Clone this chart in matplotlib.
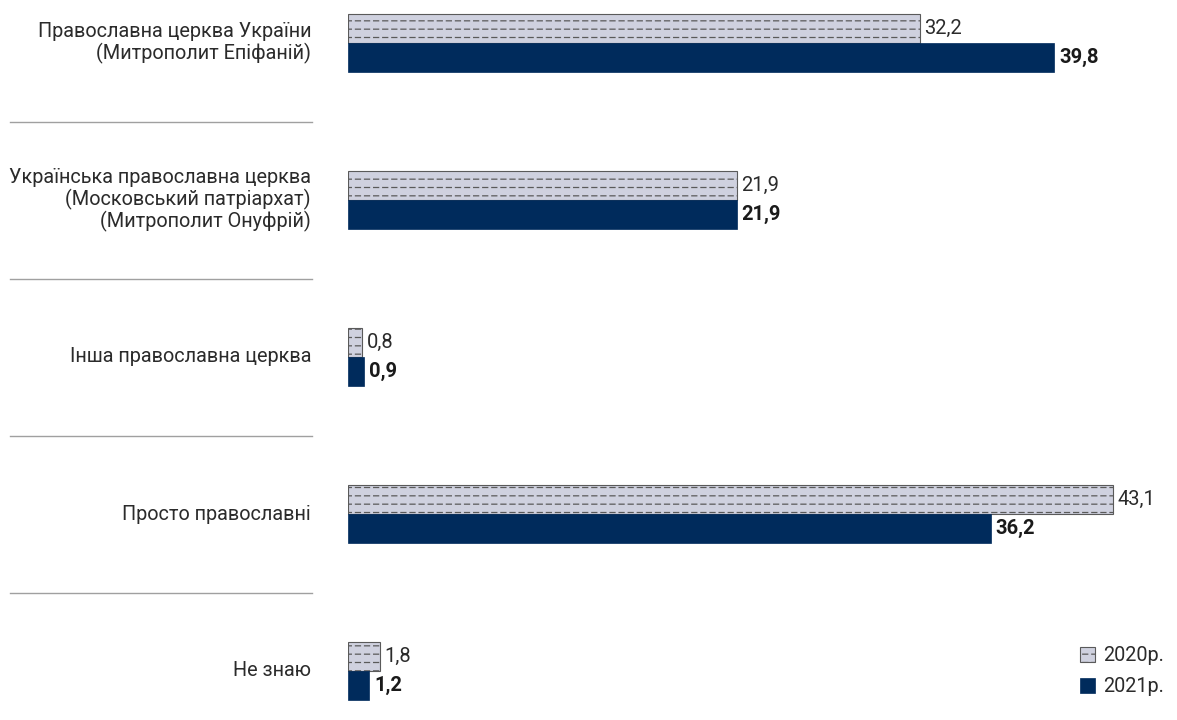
import matplotlib
matplotlib.use("Agg")
import matplotlib.pyplot as plt
import matplotlib.hatch
import matplotlib.transforms
import numpy as np
from matplotlib.path import Path

categories = [
    "Православна церква України\n(Митрополит Епіфаній)",
    "Українська православна церква\n(Московський патріархат)\n(Митрополит Онуфрій)",
    "Інша православна церква",
    "Просто православні",
    "Не знаю",
]
values_2020 = [32.2, 21.9, 0.8, 43.1, 1.8]
values_2021 = [39.8, 21.9, 0.9, 36.2, 1.2]
labels_2020 = ["32,2", "21,9", "0,8", "43,1", "1,8"]
labels_2021 = ["39,8", "21,9", "0,9", "36,2", "1,2"]
series_names = ["2020р.", "2021р."]

LIGHT = "#cfd1df"
NAVY = "#002b5c"
TEXT = "#2b2b2b"


class DashedHorizontal(matplotlib.hatch.HatchPatternBase):
	# horizontal lines made of short dashes
	def __init__(self, hatch, density):
		self.num_lines = int(hatch.count("-") * 6)
		self.num_dashes = 11
		self.num_vertices = self.num_lines * self.num_dashes * 2

	def set_vertices_and_codes(self, vertices, codes):
		step = 1.0 / self.num_lines
		period = 1.0 / self.num_dashes
		k = 0
		for i in range(self.num_lines):
			y = (i + 0.5) * step
			for j in range(self.num_dashes):
				x0 = j * period + 0.1 * period
				vertices[k] = (x0, y)
				vertices[k + 1] = (x0 + 0.55 * period, y)
				codes[k] = Path.MOVETO
				codes[k + 1] = Path.LINETO
				k += 2


matplotlib.hatch._hatch_types = [DashedHorizontal]

plt.rcParams["font.family"] = ["Roboto", "DejaVu Sans"]
plt.rcParams["hatch.linewidth"] = 0.9

figure = plt.figure(figsize = (11.77, 7.2), dpi = 100)
axes = figure.add_axes([348 / 1177, 0, 1 - 348 / 1177, 1])

scale = 17.75  # px per unit
spacing = 157.0
bar_height = 29 / spacing
positions = np.arange(len(categories))

bars_2020 = axes.barh(positions - bar_height / 2, values_2020, height = bar_height,
	color = LIGHT, edgecolor = "#5a5a5a", linewidth = 0.8, hatch = "--", label = series_names[0])
bars_2021 = axes.barh(positions + bar_height / 2, values_2021, height = bar_height,
	color = NAVY, edgecolor = NAVY, linewidth = 0.5, label = series_names[1])

axes.set_xlim(0, (1177 - 348) / scale)
axes.set_ylim(4 + (720 - 671) / spacing, -43 / spacing)
axes.axis("off")

for position, value, label in zip(positions, values_2020, labels_2020):
	axes.annotate(label, (value, position - bar_height / 2), xytext = (3.5, 0), textcoords = "offset points",
		va = "center", ha = "left", fontsize = 14.5, color = TEXT)
for position, value, label in zip(positions, values_2021, labels_2021):
	axes.annotate(label, (value, position + bar_height / 2), xytext = (3.5, 0), textcoords = "offset points",
		va = "center", ha = "left", fontsize = 14.5, color = "#1a1a1a", fontweight = "bold")

blend = matplotlib.transforms.blended_transform_factory(figure.transFigure, axes.transData)
for position, category in zip(positions, categories):
	axes.text(311 / 1177, position, category, transform = blend, ha = "right", va = "center",
		fontsize = 14.3, color = TEXT, linespacing = 1.08)
for position in positions[:-1] + 0.5:
	axes.plot([10 / 1177, 312 / 1177], [position, position], transform = blend,
		color = "#a0a0a0", linewidth = 1.0, clip_on = False)

figure.legend(handles = [bars_2020, bars_2021], loc = "lower right", bbox_to_anchor = (1.0, 0.015),
	frameon = False, fontsize = 14.3, handlelength = 0.75, handleheight = 0.75, handletextpad = 0.4,
	labelspacing = 0.6, labelcolor = TEXT, borderaxespad = 0.25)

figure.savefig("out.png", dpi = 100)
